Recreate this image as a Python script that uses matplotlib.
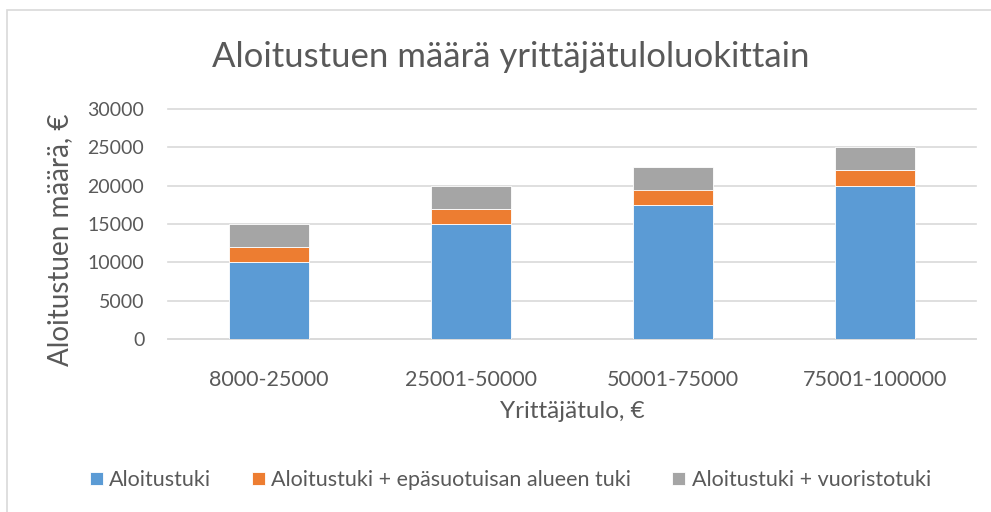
import matplotlib.pyplot as plt
from matplotlib.patches import Rectangle

plt.rcParams['font.family'] = ['Lato', 'DejaVu Sans']

categories = ["8000-25000", "25001-50000", "50001-75000", "75001-100000"]
aloitustuki = [10000, 15000, 17500, 20000]
epasuotuisa = [2000, 2000, 2000, 2000]
vuoristo = [3000, 3000, 3000, 3000]
series_names = ["Aloitustuki",
                "Aloitustuki + epäsuotuisan alueen tuki",
                "Aloitustuki + vuoristotuki"]
colors = ["#5b9bd5", "#ed7d31", "#a5a5a5"]
yticks = [0, 5000, 10000, 15000, 20000, 25000, 30000]

text_col = "#595959"

fig = plt.figure(figsize=(9.91, 5.12), dpi=100)
fig.patches.append(Rectangle((7 / 991, -0.01), 1.0, 1 - 10 / 512 + 0.01,
                             transform=fig.transFigure, fill=False,
                             edgecolor="#d9d9d9", linewidth=1.2))

ax = fig.add_axes([168 / 991, 1 - 339 / 512, (976 - 168) / 991, (339 - 109) / 512])

x = range(len(categories))
bottom2 = [a + b for a, b in zip(aloitustuki, epasuotuisa)]
ax.bar(x, aloitustuki, width=0.4, color=colors[0], label=series_names[0],
       edgecolor="white", linewidth=0.6, zorder=3)
ax.bar(x, epasuotuisa, width=0.4, bottom=aloitustuki, color=colors[1],
       label=series_names[1], edgecolor="white", linewidth=0.6, zorder=3)
ax.bar(x, vuoristo, width=0.4, bottom=bottom2, color=colors[2],
       label=series_names[2], edgecolor="white", linewidth=0.6, zorder=3)

ax.set_xlim(-0.5, 3.5)
ax.set_ylim(0, 30000)
ax.set_yticks(yticks)
ax.set_xticks(list(x))
ax.set_xticklabels(categories)
ax.grid(axis="y", color="#d9d9d9", linewidth=1.2, zorder=0, clip_on=False)
for s in ["top", "right", "left"]:
    ax.spines[s].set_visible(False)
ax.spines["bottom"].set_color("#d9d9d9")
ax.spines["bottom"].set_linewidth(1.2)
ax.tick_params(length=0, colors=text_col)
ax.tick_params(axis="y", pad=17, labelsize=14)
ax.tick_params(axis="x", pad=22, labelsize=15.5)

ax.set_xlabel("Yrittäjätulo, €", fontsize=17.5, color=text_col, labelpad=8)
ax.set_ylabel("Aloitustuen määrä, €", fontsize=20, color=text_col)
ax.yaxis.set_label_coords(-0.118, 0.43)

fig.text(511 / 991, 1 - 57 / 512, "Aloitustuen määrä yrittäjätuloluokittain",
         fontsize=25, color=text_col, ha="center", va="center")

fig.legend(loc="center", bbox_to_anchor=(0.515, 1 - 480 / 512), ncol=3,
           frameon=False, fontsize=15.5, labelcolor=text_col,
           handlelength=0.6, handleheight=0.6, handletextpad=0.3,
           columnspacing=1.9)

fig.savefig("out.png", dpi=100)
